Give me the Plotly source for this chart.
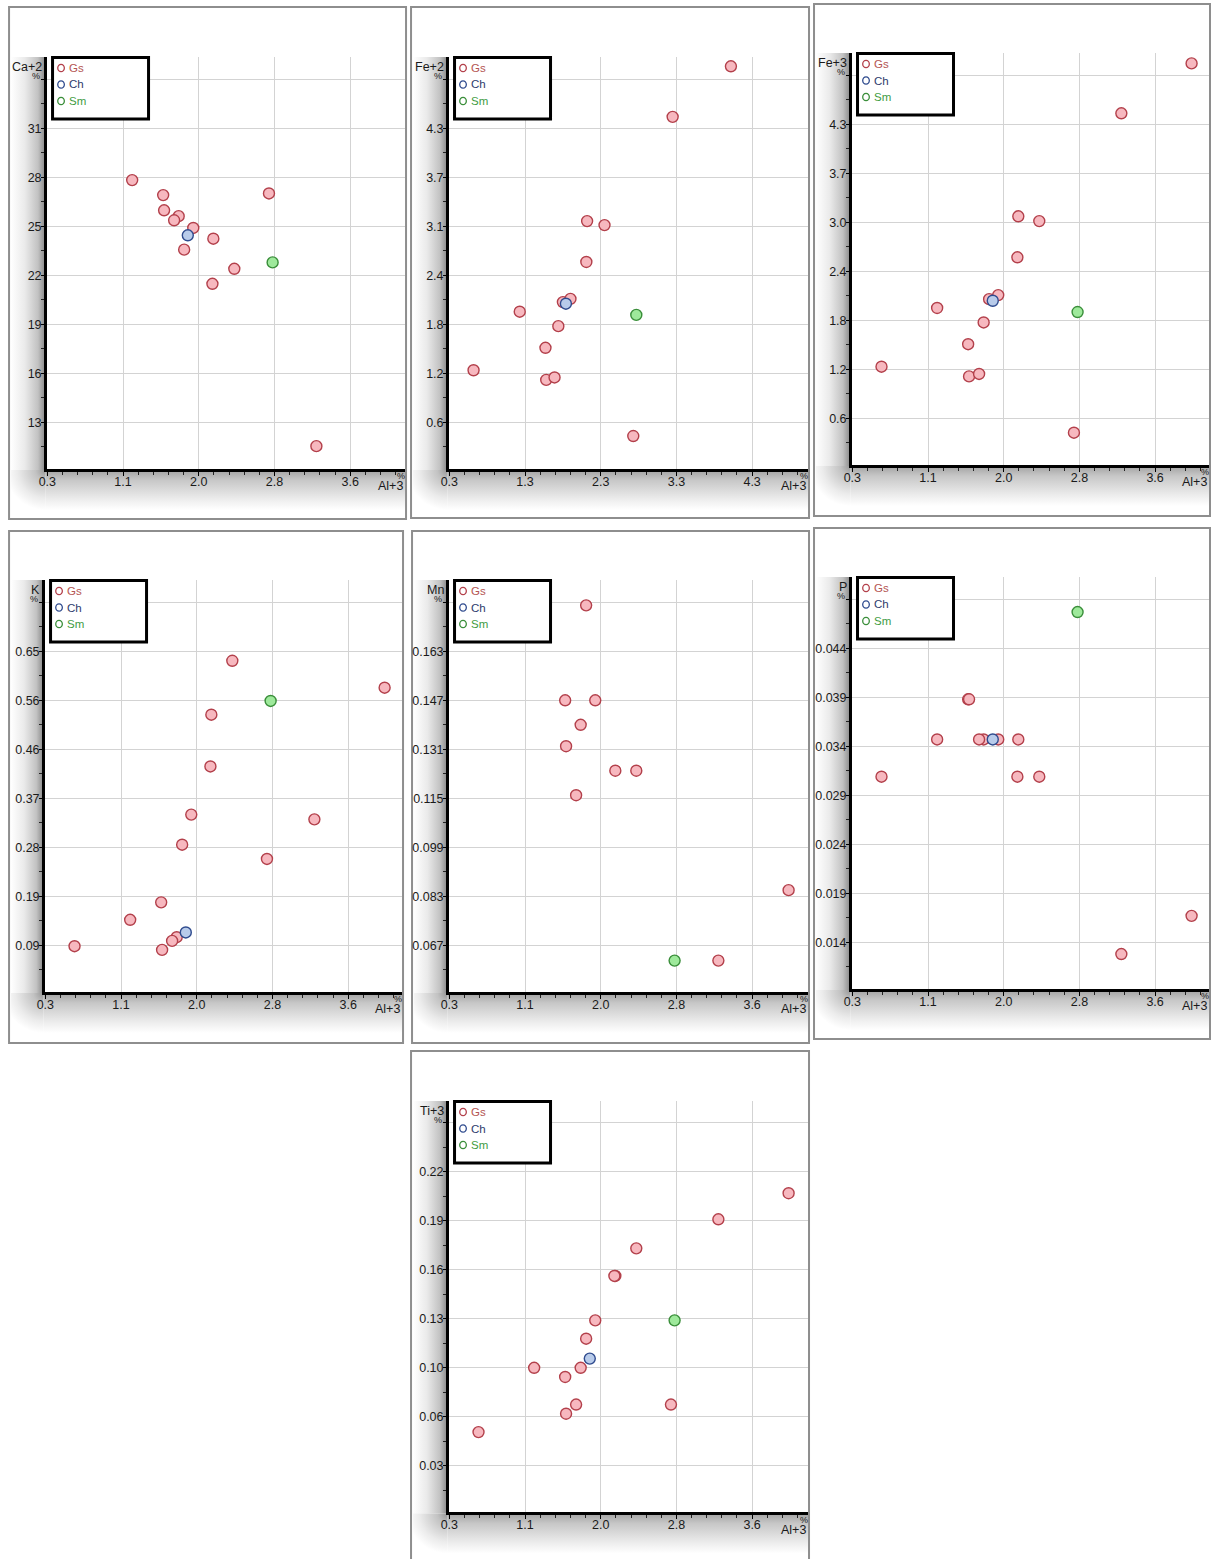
import base64
import plotly.graph_objects as go

# ---- data -------------------------------------------------------------
# Al+3 (%) of every sample: the common abscissa of all seven diagrams
al_gs = [4.02, 3.25, 2.12, 2.35, 2.11, 1.80, 1.90, 1.23, 1.74, 1.57, 0.62, 1.58, 1.69, 2.73]
al_ch = [1.84]
al_sm = [2.77]

# ordinate of each diagram, same sample order as al_gs (None = not plotted)
ca_gs = [None, 11.54, 24.24, 22.40, 21.48, 23.57, 24.90, 27.83, 25.62, 26.91, None, 25.98, 25.37, 27.01]
ca_ch = [24.45]
ca_sm = [22.79]

fe2_gs = [5.05, 4.42, 3.12, 3.07, 2.61, 2.11, 2.15, 1.99, 1.81, 1.54, 1.26, 1.14, 1.17, 0.44]
fe2_ch = [2.09]
fe2_sm = [1.95]

fe3_gs = [5.02, 4.40, 3.12, 3.06, 2.61, 2.09, 2.14, 1.98, 1.80, 1.53, 1.25, 1.13, 1.16, 0.43]
fe3_ch = [2.07]
fe3_sm = [1.93]

k_gs = [0.580, 0.331, 0.529, 0.631, 0.431, 0.283, 0.340, 0.141, 0.108, 0.174, 0.091, 0.084, 0.101, 0.256]
k_ch = [0.117]
k_sm = [0.555]

mn_gs = [0.085, 0.062, 0.124, 0.124, None, 0.178, 0.147, None, 0.139, 0.147, None, 0.132, 0.116, None]
mn_ch = [None]
mn_sm = [0.062]

p_gs = [0.0167, 0.0128, 0.0347, 0.0309, 0.0309, None, 0.0347, 0.0347, 0.0347, 0.0388, 0.0309, 0.0388, 0.0347, None]
p_ch = [0.0347]
p_sm = [0.0477]

ti_gs = [0.210, 0.193, 0.156, 0.174, 0.156, 0.115, 0.127, 0.096, 0.096, 0.090, 0.054, 0.066, 0.072, 0.072]
ti_ch = [0.102]
ti_sm = [0.127]

# axis scales: first value, step and the labels printed at each step
al_min = 0.3
al_step_a = 0.83
al_ticks_a = ["0.3", "1.1", "2.0", "2.8", "3.6"]
al_step_b = 1.0
al_ticks_b = ["0.3", "1.3", "2.3", "3.3", "4.3"]

ca_scale = (10.0, 3.0, ["13", "16", "19", "22", "25", "28", "31"])
fe2_scale = (0.0, 0.611, ["0.6", "1.2", "1.8", "2.4", "3.1", "3.7", "4.3"])
fe3_scale = (0.0, 0.609, ["0.6", "1.2", "1.8", "2.4", "3.0", "3.7", "4.3"])
k_scale = (0.0, 0.0927, ["0.09", "0.19", "0.28", "0.37", "0.46", "0.56", "0.65"])
mn_scale = (0.051, 0.016, ["0.067", "0.083", "0.099", "0.115", "0.131", "0.147", "0.163"])
p_scale = (0.009, 0.005, ["0.014", "0.019", "0.024", "0.029", "0.034", "0.039", "0.044"])
ti_scale = (0.0, 0.032, ["0.03", "0.06", "0.10", "0.13", "0.16", "0.19", "0.22"])

series_names = ["Gs", "Ch", "Sm"]

# ---- page geometry ------------------------------------------------------
# Positions below are window pixels.  The html body keeps its default 8 px
# left margin and the page is laid out 8 px wider than it is shown, so a
# window x maps to figure x = x * PAGE_W / WIN_W - BODY_MARGIN.
WIN_W, BODY_MARGIN = 1211, 8
PAGE_W = WIN_W + BODY_MARGIN
FIG_W, FIG_H = 1211, 1559
GRID_X = 75.7   # px between x grid lines
GRID_Y = 49.0   # px between y grid lines

# frame = (left, top, right, bottom); ax0 = y-axis line, axy = x-axis line
BOXES = [
    dict(frame=(9, 7, 406, 519), ax0=45.5, axy=470.0, top=57.0),
    dict(frame=(411, 7, 809, 518), ax0=447.5, axy=470.0, top=57.0),
    dict(frame=(814, 4, 1210, 516), ax0=850.5, axy=466.0, top=53.0),
    dict(frame=(9, 531, 403, 1043), ax0=43.5, axy=993.0, top=580.0),
    dict(frame=(412, 531, 809, 1043), ax0=447.5, axy=993.0, top=580.0),
    dict(frame=(814, 528, 1210, 1039), ax0=850.5, axy=990.0, top=577.0),
    dict(frame=(411, 1051, 809, 1563), ax0=447.5, axy=1513.5, top=1101.0),
]

PANELS = [
    ("Ca+2", ca_gs, ca_ch, ca_sm, ca_scale, al_step_a, al_ticks_a),
    ("Fe+2", fe2_gs, fe2_ch, fe2_sm, fe2_scale, al_step_b, al_ticks_b),
    ("Fe+3", fe3_gs, fe3_ch, fe3_sm, fe3_scale, al_step_a, al_ticks_a),
    ("K", k_gs, k_ch, k_sm, k_scale, al_step_a, al_ticks_a),
    ("Mn", mn_gs, mn_ch, mn_sm, mn_scale, al_step_a, al_ticks_a),
    ("P", p_gs, p_ch, p_sm, p_scale, al_step_a, al_ticks_a),
    ("Ti+3", ti_gs, ti_ch, ti_sm, ti_scale, al_step_a, al_ticks_a),
]

STYLE = {
    "Gs": dict(fill="#f7b8bf", line="#b3404b", text="#b45552"),
    "Ch": dict(fill="#b8cbea", line="#2f4b8e", text="#2e3b6c"),
    "Sm": dict(fill="#9ee99b", line="#3a8e3a", text="#3f9c3f"),
}

FONT = "Liberation Sans, Arial, sans-serif"
TXT = "#1a1a1a"


def fx(px):
    """window x -> figure pixel x"""
    return px * PAGE_W / WIN_W - BODY_MARGIN


def X(px):
    return fx(px) / FIG_W


def Y(py):
    return 1 - py / FIG_H


def shadow_svg(w, h, ax, ay, top):
    """Grey bevel drawn left of the value axis and below the category axis."""
    bh = 40
    svg = f'''<svg xmlns="http://www.w3.org/2000/svg" width="{w}" height="{h}" viewBox="0 0 {w} {h}" preserveAspectRatio="none">
<defs>
<linearGradient id="l" x1="0" y1="0" x2="1" y2="0">
<stop offset="0" stop-color="#ffffff"/><stop offset="0.4" stop-color="#eaeaea"/>
<stop offset="0.78" stop-color="#c2c2c2"/><stop offset="1" stop-color="#878787"/>
</linearGradient>
<linearGradient id="b" x1="0" y1="0" x2="0" y2="1">
<stop offset="0" stop-color="#a2a2a2"/><stop offset="0.25" stop-color="#c7c7c7"/>
<stop offset="0.75" stop-color="#eeeeee"/><stop offset="1" stop-color="#ffffff"/>
</linearGradient>
<radialGradient id="c" gradientUnits="userSpaceOnUse" cx="{ax}" cy="{ay}" r="{bh}">
<stop offset="0" stop-color="#959595"/><stop offset="0.25" stop-color="#c2c2c2"/>
<stop offset="0.7" stop-color="#ebebeb"/><stop offset="1" stop-color="#ffffff"/>
</radialGradient>
</defs>
<rect x="2" y="{top}" width="{ax - 2}" height="{ay - top}" fill="url(#l)"/>
<rect x="{ax}" y="{ay}" width="{w - ax}" height="{bh}" fill="url(#b)"/>
<rect x="2" y="{ay}" width="{ax - 2}" height="{bh}" fill="url(#c)"/>
</svg>'''
    return "data:image/svg+xml;base64," + base64.b64encode(svg.encode()).decode()


fig = go.Figure()
shapes, annotations, images = [], [], []

for i, ((label, gs, ch, sm, yscale, xstep, xticks), box) in enumerate(zip(PANELS, BOXES), start=1):
    L, T, R, B = box["frame"]
    ax0, axy, top = box["ax0"], box["axy"], box["top"]
    right = R - 1
    ymin, ystep, yticks = yscale

    # plot area and the data range that reproduces the grid spacing
    dom_l, dom_b = ax0 + 1.5, axy - 1.5
    xmin_px, ymin_px = ax0 + 1.8, axy + 1.3
    ppu_x, ppu_y = GRID_X / xstep, GRID_Y / ystep
    x_rng = [al_min + (dom_l - xmin_px) / ppu_x, al_min + (right - xmin_px) / ppu_x]
    y_rng = [ymin + (ymin_px - dom_b) / ppu_y, ymin + (ymin_px - top) / ppu_y]

    xa = "xaxis" if i == 1 else f"xaxis{i}"
    ya = "yaxis" if i == 1 else f"yaxis{i}"
    xr = "x" if i == 1 else f"x{i}"
    yr = "y" if i == 1 else f"y{i}"

    fig.layout[xa] = dict(
        domain=[X(dom_l), X(right)], range=x_rng, anchor=yr,
        tickmode="array",
        tickvals=[al_min + k * xstep for k in range(len(xticks))],
        ticktext=xticks,
        showgrid=True, gridcolor="#d3d3d3", gridwidth=1.2,
        showline=True, linecolor="black", linewidth=3,
        ticks="outside", ticklen=4, tickcolor="black", tickwidth=1,
        minor=dict(ticks="outside", ticklen=3, tickcolor="#222", tickmode="linear",
                   tick0=al_min, dtick=xstep / 5, showgrid=False),
        ticklabelstandoff=-5,
        zeroline=False, fixedrange=True,
        tickfont=dict(family=FONT, size=12.5, color=TXT),
    )
    fig.layout[ya] = dict(
        domain=[Y(dom_b), Y(top)], range=y_rng, anchor=xr,
        tickmode="array",
        tickvals=[ymin + k * ystep for k in range(1, len(yticks) + 2)],
        ticktext=yticks + [""],
        showgrid=True, gridcolor="#d3d3d3", gridwidth=1.2,
        showline=True, linecolor="black", linewidth=3,
        ticks="outside", ticklen=3, tickcolor="black", tickwidth=1,
        minor=dict(ticks="outside", ticklen=3, tickcolor="#222", tickmode="linear",
                   tick0=ymin, dtick=ystep / 2, showgrid=False),
        ticklabelstandoff=-3,
        zeroline=False, fixedrange=True,
        tickfont=dict(family=FONT, size=12.5, color=TXT),
    )

    for name, ys, xs in (("Gs", gs, al_gs), ("Ch", ch, al_ch), ("Sm", sm, al_sm)):
        st = STYLE[name]
        fig.add_trace(go.Scatter(
            x=xs, y=ys, mode="markers", name=name, showlegend=False,
            xaxis=xr, yaxis=yr, hoverinfo="skip",
            marker=dict(size=11, color=st["fill"], line=dict(color=st["line"], width=1.4)),
        ))

    # bevel shadow and outer frame
    images.append(dict(
        source=shadow_svg(R - L, B - T, ax0 - L, axy - T, top - T),
        xref="paper", yref="paper", x=X(L), y=Y(T), sizex=X(R) - X(L), sizey=(B - T) / FIG_H,
        xanchor="left", yanchor="top", sizing="stretch", layer="below",
    ))
    shapes.append(dict(type="rect", xref="paper", yref="paper",
                       x0=X(L), x1=X(R), y0=Y(B), y1=Y(T),
                       line=dict(color="#8e8e8e", width=2), fillcolor="rgba(0,0,0,0)", layer="below"))

    # axis captions
    annotations += [
        dict(text=label, x=X(ax0 - 1.5), y=Y(top + 10), xanchor="right", yanchor="middle",
             font=dict(family=FONT, size=12.5, color=TXT)),
        dict(text="%", x=X(ax0 - 10), y=Y(top + 19), xanchor="center", yanchor="middle",
             font=dict(family=FONT, size=9, color=TXT)),
        dict(text="%", x=X(right - 4), y=Y(axy + 6), xanchor="center", yanchor="middle",
             font=dict(family=FONT, size=9, color=TXT)),
        dict(text="Al+3", x=X(right), y=Y(axy + 16), xanchor="right", yanchor="middle",
             font=dict(family=FONT, size=12.5, color=TXT)),
    ]

    # legend box
    shapes.append(dict(type="rect", xref="paper", yref="paper",
                       x0=X(ax0 + 7), x1=X(ax0 + 103), y0=Y(top + 62), y1=Y(top + 0.5),
                       line=dict(color="black", width=3), fillcolor="white", layer="above"))
    for j, name in enumerate(series_names):
        cy = top + 11 + j * 16.5
        cx = ax0 + 15.5
        shapes.append(dict(type="circle", xref="paper", yref="paper",
                           x0=X(cx - 3.3), x1=X(cx + 3.3), y0=Y(cy + 3.7), y1=Y(cy - 3.7),
                           line=dict(color=STYLE[name]["line"], width=1.3),
                           fillcolor="white", layer="above"))
        annotations.append(dict(text=name, x=X(ax0 + 21.5), y=Y(cy), xanchor="left", yanchor="middle",
                                font=dict(family=FONT, size=11.5, color=STYLE[name]["text"])))

for a in annotations:
    a.update(xref="paper", yref="paper", showarrow=False)

fig.update_layout(
    width=FIG_W, height=FIG_H, autosize=False,
    margin=dict(l=0, r=0, t=0, b=0),
    paper_bgcolor="white", plot_bgcolor="white",
    showlegend=False,
    shapes=shapes, annotations=annotations, images=images,
)

fig.write_html("out.html")
